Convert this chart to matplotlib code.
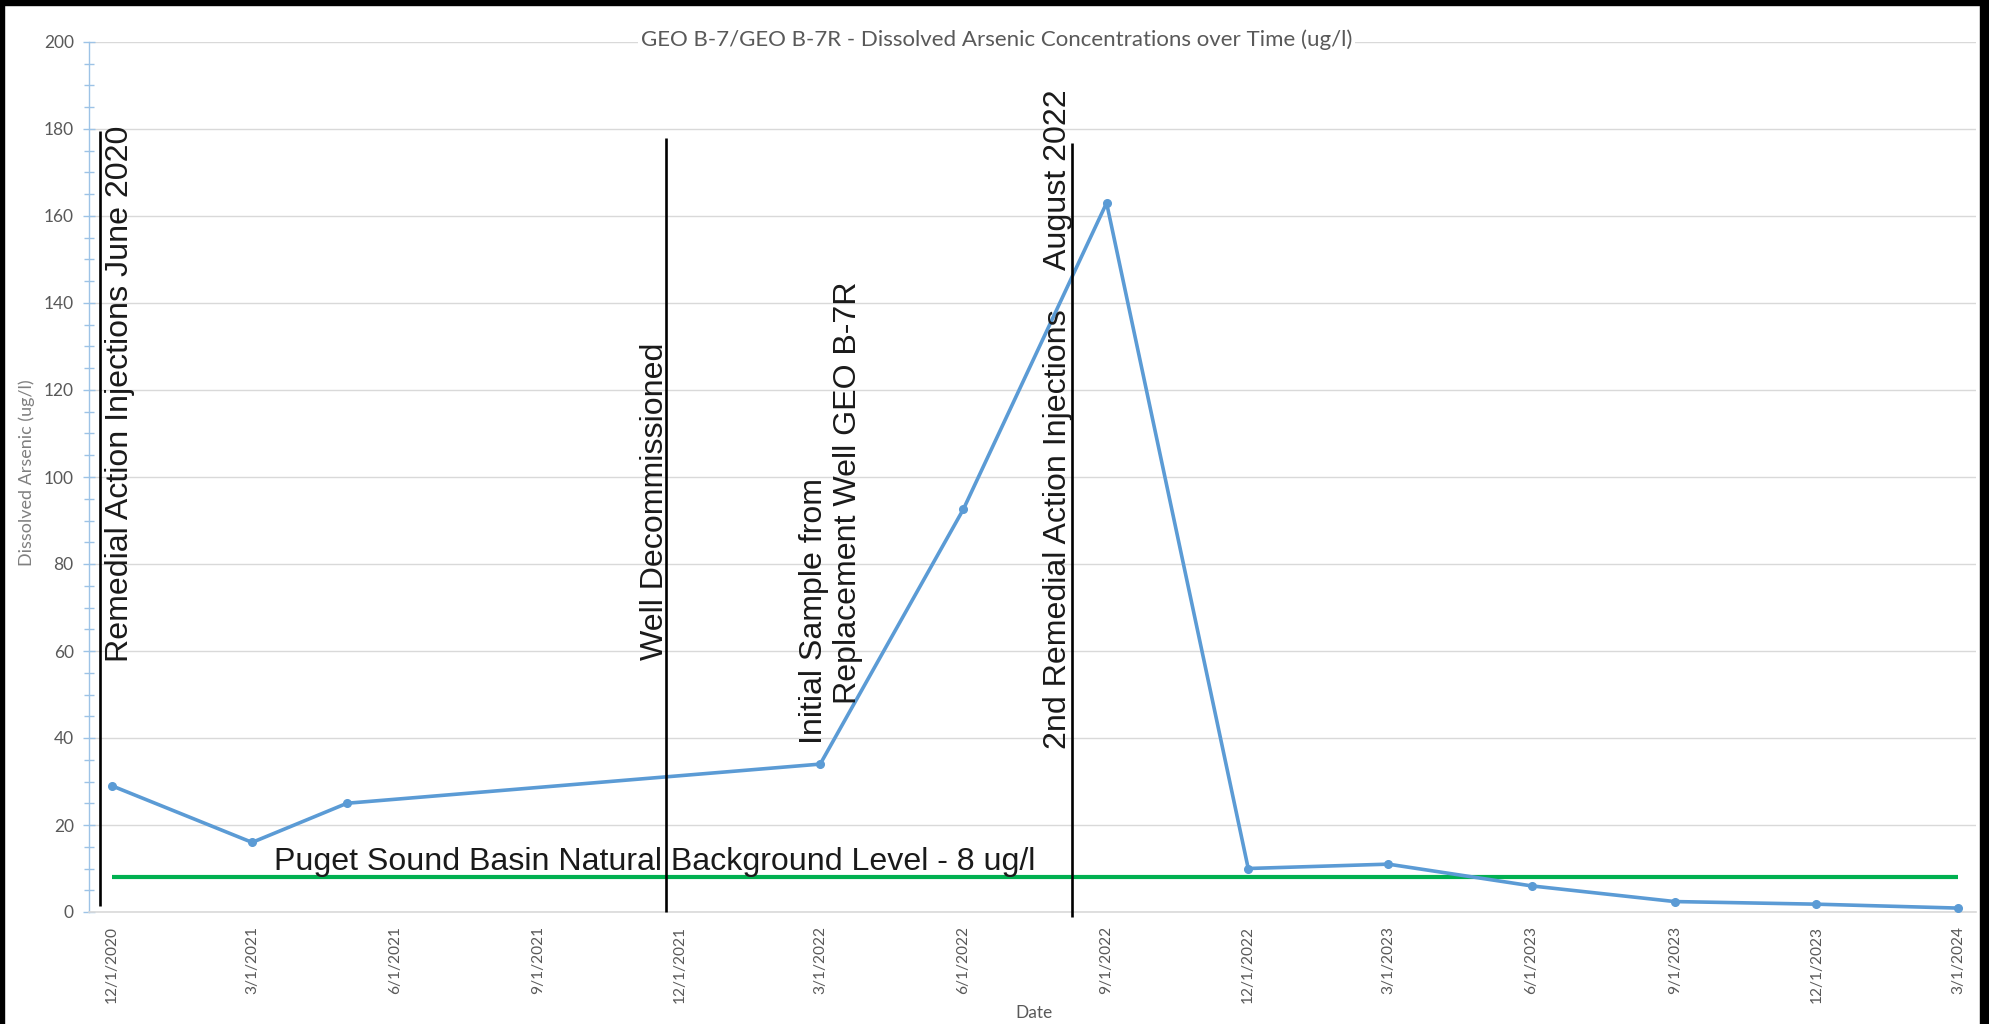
import datetime as dt

import matplotlib
matplotlib.use("Agg")
import matplotlib.pyplot as plt
import matplotlib.dates as mdates
from matplotlib.patches import Rectangle
from matplotlib.ticker import MultipleLocator

# ---- data -------------------------------------------------------------
sample_dates = ["2020-12-01", "2021-03-01", "2021-05-01", "2022-03-01",
                "2022-06-01", "2022-09-01", "2022-12-01", "2023-03-01",
                "2023-06-01", "2023-09-01", "2023-12-01", "2024-03-01"]
arsenic_ugl = [29, 16, 25, 34, 92.6, 163, 10, 11, 6, 2.4, 1.8, 0.9]

tick_dates = ["2020-12-01", "2021-03-01", "2021-06-01", "2021-09-01",
              "2021-12-01", "2022-03-01", "2022-06-01", "2022-09-01",
              "2022-12-01", "2023-03-01", "2023-06-01", "2023-09-01",
              "2023-12-01", "2024-03-01"]
tick_labels = ["12/1/2020", "3/1/2021", "6/1/2021", "9/1/2021",
               "12/1/2021", "3/1/2022", "6/1/2022", "9/1/2022",
               "12/1/2022", "3/1/2023", "6/1/2023", "9/1/2023",
               "12/1/2023", "3/1/2024"]

background_level = 8
background_span = ["2020-12-01", "2024-03-01"]

# event markers: date, bottom, top
event_lines = [("2020-11-23", 1.4, 179.5),
               ("2021-11-22", 0.0, 178.0),
               ("2022-08-10", -1.2, 176.7)]

# event captions: date of baseline, starting value, text
event_texts = [("2020-12-11", 57.4, "Remedial Action Injections June 2020"),
               ("2021-11-20", 58.0, "Well Decommissioned"),
               ("2022-03-02", 38.6, "Initial Sample from"),
               ("2022-03-24", 47.8, "Replacement Well GEO B-7R"),
               ("2022-08-06", 37.5, "2nd Remedial Action Injections"),
               ("2022-08-06", 147.5, "August 2022")]

background_text = ("2021-03-15", 9.6,
                   "Puget Sound Basin Natural Background Level - 8 ug/l")

title = "GEO B-7/GEO B-7R - Dissolved Arsenic Concentrations over Time (ug/l)"


def d(s):
    return dt.datetime.strptime(s, "%Y-%m-%d")


# ---- figure -----------------------------------------------------------
W, H = 1990, 1024
fig = plt.figure(figsize=(W / 100, H / 100), dpi=100)
fig.patch.set_facecolor("white")

ax = fig.add_axes([89 / W, 112 / H, (1976 - 89) / W, (912 - 42) / H])
ax.set_facecolor("white")

ax.set_ylim(0, 200)
ax.set_xlim(dt.datetime(2020, 11, 16, 5), dt.datetime(2024, 3, 12, 14))

# grid
ax.yaxis.set_major_locator(MultipleLocator(20))
ax.yaxis.set_minor_locator(MultipleLocator(5))
ax.grid(axis="y", which="major", color="#D9D9D9", linewidth=1.0, zorder=0)
ax.set_axisbelow(True)

# spines
for s in ("top", "right"):
    ax.spines[s].set_visible(False)
ax.spines["left"].set_color("#9DC3E6")
ax.spines["left"].set_linewidth(1.0)
ax.spines["bottom"].set_color("#D9D9D9")
ax.spines["bottom"].set_linewidth(1.2)

tick_color = "#595959"
ax.tick_params(axis="y", which="major", direction="inout", length=8,
               width=1.0, color="#9DC3E6", labelsize=12.5,
               labelcolor=tick_color, pad=7)
ax.tick_params(axis="y", which="minor", direction="inout", length=7,
               width=1.0, color="#9DC3E6")
for lab in ax.get_yticklabels():
    lab.set_family("Lato")

ax.set_xticks([mdates.date2num(d(t)) for t in tick_dates])
ax.set_xticklabels(tick_labels, rotation=90, fontsize=11.2,
                   color=tick_color, family="Lato")
ax.tick_params(axis="x", length=0, pad=10)

ax.set_ylabel("Dissolved Arsenic (ug/l)", fontsize=13, color="#808080",
              family="Lato")
ax.yaxis.set_label_coords(-0.0287, 0.505)
ax.set_xlabel("Date", fontsize=12.5, color=tick_color, family="Lato")
ax.xaxis.set_label_coords(0.501, -0.107)

# background level
ax.plot([d(background_span[0]), d(background_span[1])],
        [background_level, background_level],
        color="#00B050", linewidth=3.0, zorder=3, solid_capstyle="butt")

# concentrations
ax.plot([d(s) for s in sample_dates], arsenic_ugl, color="#5B9BD5",
        linewidth=2.6, marker="o", markersize=5.5, zorder=4)

# event lines
for date, y0, y1 in event_lines:
    ax.plot([d(date), d(date)], [y0, y1], color="black", linewidth=1.9,
            zorder=5, clip_on=False, solid_capstyle="butt")

ann_font = dict(family="Liberation Sans", fontsize=23.1, color="#1a1a1a")
for date, y, text in event_texts:
    ax.text(d(date), y, text, rotation=90, rotation_mode="anchor",
            ha="left", va="baseline", zorder=6, **ann_font)

bx, by, btxt = background_text
ax.text(d(bx), by, btxt, ha="left", va="baseline", zorder=6, **ann_font)

# title
fig.text(996.5 / W, 1 - 40 / H, title, ha="center", va="center",
         fontsize=16, color=tick_color, family="Lato",
         bbox=dict(facecolor="white", edgecolor="none", pad=2))

# frame around the picture
fig.add_artist(Rectangle((0, 1 - 5 / H), 1, 5 / H, transform=fig.transFigure,
                         color="black", zorder=10))
fig.add_artist(Rectangle((0, 0), 4 / W, 1, transform=fig.transFigure,
                         color="black", zorder=10))
fig.add_artist(Rectangle((1 - 10 / W, 0), 10 / W, 1, transform=fig.transFigure,
                         color="black", zorder=10))

fig.savefig("out.png", dpi=100, facecolor="white")
